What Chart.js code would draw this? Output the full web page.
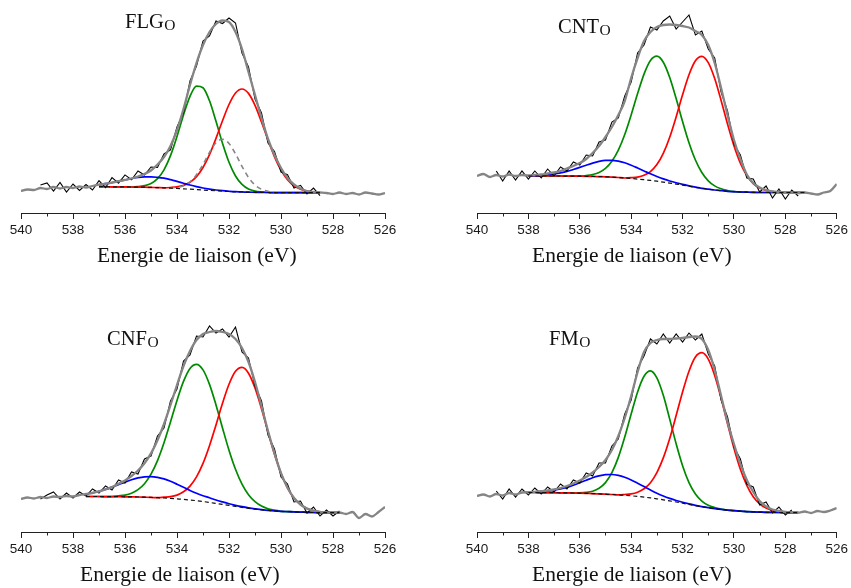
<!DOCTYPE html>
<html><head><meta charset="utf-8">
<script src="https://cdn.jsdelivr.net/npm/chart.js@4.4.1/dist/chart.umd.min.js"></script>
<style>
html,body{margin:0;padding:0;background:#fff}
body{width:851px;height:588px;position:relative;overflow:hidden}
canvas{position:absolute}
.lab{position:absolute;font-family:"Liberation Serif","Times New Roman",serif;font-size:20.5px;line-height:1;color:#111;white-space:nowrap}
.lab span{font-size:15.5px;position:relative;top:2px;margin-left:0.5px}
.ax{position:absolute;font-family:"Liberation Serif","Times New Roman",serif;font-size:21.5px;line-height:1;color:#111;white-space:nowrap}
</style></head><body>
<canvas id="c0" width="425" height="290" style="left:0;top:0"></canvas>
<canvas id="c1" width="426" height="290" style="left:425px;top:0"></canvas>
<canvas id="c2" width="425" height="294" style="left:0;top:294px"></canvas>
<canvas id="c3" width="426" height="294" style="left:425px;top:294px"></canvas>
<div class="lab" style="left:125px;top:11px">FLG<span>O</span></div>
<div class="lab" style="left:558px;top:16px">CNT<span>O</span></div>
<div class="lab" style="left:107px;top:328px">CNF<span>O</span></div>
<div class="lab" style="left:549px;top:328px">FM<span>O</span></div>
<div class="ax" style="left:97px;top:245px">Energie de liaison (eV)</div>
<div class="ax" style="left:532px;top:245px">Energie de liaison (eV)</div>
<div class="ax" style="left:80px;top:564px">Energie de liaison (eV)</div>
<div class="ax" style="left:532px;top:564px">Energie de liaison (eV)</div>
<script>
// Binding-energy grid (eV)
const ENERGY = [540,539.75,539.5,539.25,539,538.75,538.5,538.25,538,537.75,537.5,537.25,537,536.75,536.5,536.25,536,535.75,535.5,535.25,535,534.75,534.5,534.25,534,533.75,533.5,533.25,533,532.75,532.5,532.25,532,531.75,531.5,531.25,531,530.75,530.5,530.25,530,529.75,529.5,529.25,529,528.75,528.5,528.25,528,527.75,527.5,527.25,527,526.75,526.5,526.25,526];
const X_TICKS_MINOR = [539,537,535,533,531,529,527];

// ---------- FLG_O ----------
const flgEnvelope = [22,23.5,23,25,24,26,24.5,26,25,26.5,25.5,27,28.3,29.3,30.4,31.8,33.1,34.5,36.5,39,42.5,48.5,56,67,83,104,128,150,168,181,189,192.5,191,181,164,141,118,95,74,58,45,35,28.5,24.5,22,21,20.5,20,19,20.5,19,20,18.5,20.5,19.5,18.5,20];
const flgDataFrom = 539.25;
const flgData = [28,30,22,30.5,21,29,22.5,28.5,23,32.3,25.3,35.4,29.8,38.1,33.2,42,38,46,45.5,59,63,86,100,132,147,172,177,192,189.5,195,190,160,146,114,100,70,61.5,41,38.3,25,27.7,19,24.9,17.3];
const flgBaseFrom = 537;
const flgBase = [26.3,26.3,26.2,26.2,26.1,26.0,25.9,25.8,25.6,25.4,25.2,24.9,24.6,24.2,23.8,23.4,23.0,22.6,22.2,21.8,21.5,21.2,21.0,20.8,20.7,20.6,20.5,20.4,20.4,20.3,20.3,20.3,20.3,20.3,20.3];
const flgGreenFrom = 535.5;
const flgGreen = [0.5,1.5,3.8,8.9,18.0,32.5,52.0,73.9,92.9,103.5,102.3,89.6,69.5,47.9,29.2,15.8,7.6,3.2,1.2,0.4];
const flgRedFrom = 534.25;
const flgRed = [0.6,1.5,3.4,6.9,13.0,22.5,35.8,52.4,70.5,87.0,98.8,103,98.8,87.0,70.5,52.4,35.8,22.5,13.0,6.9,3.4,1.5,0.6];
const flgBlueFrom = 537;
const flgBlue = [2.0,3.0,4.2,5.6,7.0,8.4,9.6,10.3,10.6,10.3,9.6,8.4,7.0,5.6,4.2,3.0,2.0,1.3,0.8,0.5,0.25,0.1,0.1];
const flgExtraFrom = 534.25;
const flgExtra = [0.3,1.1,3.1,7.3,14.8,25.6,38.0,48.0,52,48.0,38.0,25.6,14.8,7.3,3.1,1.1,0.3];

// ---------- CNT_O ----------
const cntEnvelope = [37,39,36,38,36.5,38.5,37,38,37.5,38,38.5,39.5,40.5,42,44.5,47,50,54,60,67,76,86,98,112,135,155,172,181,186,188,188.5,188,187,185.5,182,178,168,150,125,98,73,54,38.5,30,25.5,23,21.5,21,20.5,20.5,20,20.5,19.5,18.5,20.5,22,29];
const cntDataFrom = 539.25;
const cntData = [42,32,42,33,42,34,42,35,44,37,46,42,51,48,58,57,71,73,91,95,117,131,160,168,186,183,192,197,184,191,198,178,182,164,155,121,102,69,58,35,34,21,27,15,24,14,23,17];
const cntBaseFrom = 538;
const cntBase = [37,37,37,37,37,37,36.9,36.9,36.8,36.7,36.6,36.4,36.2,35.9,35.5,35.0,34.5,33.9,33.3,32.6,31.8,30.9,29.9,28.9,27.9,26.8,25.7,24.7,23.8,23.0,22.3,21.7,21.3,21.0,20.8,20.6,20.5,20.5,20.5,20.5,20.5,20.5,20.5,20.5];
const cntGreenFrom = 535.75;
const cntGreen = [0.8,1.9,4.1,8.4,15.8,27.3,43.5,63.6,85.5,105.6,119.9,125,119.9,105.6,85.5,63.6,43.5,27.3,15.8,8.4,4.1,1.9,0.8];
const cntRedFrom = 534;
const cntRed = [0.8,2.0,4.4,8.8,16.6,28.8,45.9,67.2,90.3,111.5,126.6,132,126.6,111.5,90.3,67.2,45.9,28.8,16.6,8.8,4.4,2.0,0.8];
const cntBlueFrom = 538;
const cntBlue = [0.2,0.4,0.7,1.3,2.1,3.2,4.7,6.6,8.8,11.1,13.3,15.2,16.4,16.8,16.4,15.2,13.3,11.1,8.8,6.6,4.7,3.2,2.1,1.3,0.7,0.4,0.2];

// ---------- CNF_O ----------
const cnfEnvelope = [33,34.5,33.5,35,34,35.5,35,36,35.5,37,38,39,40.7,42.6,45,48.2,51.6,56,61.5,68.7,78.6,91.8,108,127,147,166,181,192,198,200,201,200,198,193,184,170,150,126,101,78.6,58.8,44.2,34,27.5,23.5,21.3,20.2,19.5,19.3,19.5,18,20,14,18,15.5,20,25];
const cnfDataFrom = 539.25;
const cnfData = [33,37,40,33,39,34,40,36,43,39,46,42,52,49,60,58,73,76,96,104,131,143,171,177,196,195,206,199,203,195,205,180,174,146,131,97,83,55,48,30,31,19,25,16,22,16,21];
const cnfBaseFrom = 537.5;
const cnfBase = [35.5,35.5,35.5,35.4,35.4,35.3,35.2,35.1,35.0,34.8,34.6,34.3,34.0,33.6,33.1,32.6,32.0,31.3,30.5,29.6,28.6,27.6,26.6,25.6,24.6,23.7,22.9,22.2,21.6,21.1,20.7,20.4,20.1,19.9,19.7,19.5,19.4,19.3,19.3,19.3];
const cnfGreenFrom = 536.25;
const cnfGreen = [0.8,1.7,3.7,7.4,13.5,23.2,37.1,55.2,76.5,98.5,118,131.6,136.4,131.6,118,98.5,76.5,55.2,37.1,23.2,13.5,7.4,3.7,1.7,0.8];
const cnfRedFrom = 534.5;
const cnfRed = [0.8,1.8,3.8,7.6,13.9,23.8,38.1,56.7,78.5,101.1,121.1,135.1,140,135.1,121.1,101.1,78.5,56.7,38.1,23.8,13.9,7.6,3.8,1.8,0.8];
const cnfBlueFrom = 537.5;
const cnfBlue = [2.4,3.6,5.2,7.2,9.5,12.1,14.7,17.1,19.1,20.4,20.8,20.4,19.1,17.1,14.7,12.1,9.5,7.4,5.8,4.6,3.4,2.5,1.7,1.1,0.7,0.4,0.2,0.1];

// ---------- FM_O ----------
const fmEnvelope = [36,37.5,35.5,38,36.5,39,37.5,39.5,39.8,40.2,40.8,41.5,42.5,44,46,48.5,51.5,55,59.5,65,72,82,96,114,136,160,180,189,192,193,193,193.5,194,195,195.5,193,182,162,136,110,88,68,52,40,31,25.5,22.5,21,20,19.6,19.3,20.5,19,21,20,21.5,24];
const fmDataFrom = 539.25;
const fmData = [41,33,43,35,43,37,44,38,45,40,48,43,52,49,59,56,69,69,86,93,118,132,164,176,193,188,198,189,198,190,199,192,198,178,166,132,115,85,73,48,45,27,30,19,25,17,22];
const fmBaseFrom = 538;
const fmBase = [39.5,39.5,39.4,39.4,39.3,39.2,39.1,39.0,38.8,38.6,38.4,38.1,37.8,37.5,37.1,36.7,36.2,35.6,34.9,34.1,33.2,32.2,31.1,30.0,28.8,27.6,26.4,25.3,24.3,23.4,22.6,21.9,21.3,20.8,20.4,20.1,19.9,19.7,19.6,19.5,19.4,19.3,19.3];
const fmGreenFrom = 536;
const fmGreen = [0.3,1.0,2.4,5.6,11.6,21.8,37.5,58.2,81.8,104.5,120.9,127,120.9,104.5,81.8,58.2,37.5,21.8,11.6,5.6,2.4,1.0,0.3];
const fmRedFrom = 534.25;
const fmRed = [0.8,1.9,4.2,8.3,15.2,26.2,41.9,62.4,86.4,111.2,133.2,148.6,154,148.6,133.2,111.2,86.4,62.4,41.9,26.2,15.2,8.3,4.2,1.9,0.8];
const fmBlueFrom = 538;
const fmBlue = [0.3,0.5,0.9,1.5,2.5,3.8,5.6,7.9,10.5,13.2,15.9,18,19.5,20,19.5,18,15.9,13.2,10.5,7.9,5.6,3.8,2.5,1.5,0.9,0.5,0.3,0.1];

// ---------- helpers ----------
function idx(e, name){ const i = ENERGY.indexOf(e); if(i<0) throw new Error('bad energy '+e+' '+name); return i; }
function series(from, vals, name){
  const i0 = idx(from, name);
  if(i0 + vals.length > ENERGY.length) throw new Error('overflow '+name);
  return vals.map((v,k)=>({x:ENERGY[i0+k], y:v}));
}
// component drawn on top of the background over the whole background range
function onBase(baseFrom, base, from, vals, name){
  const b0 = idx(baseFrom, name), c0 = idx(from, name);
  if(c0 < b0 || c0 + vals.length > b0 + base.length) throw new Error('component outside base '+name);
  return base.map((b,k)=>{ const j = b0 + k - c0; const c = (j>=0 && j<vals.length) ? vals[j] : 0; return {x:ENERGY[b0+k], y:b+c}; });
}
// component drawn only over its own support
function onBaseOnly(baseFrom, base, from, vals, name){
  const b0 = idx(baseFrom, name), c0 = idx(from, name);
  return vals.map((v,k)=>({x:ENERGY[c0+k], y:base[c0+k-b0]+v}));
}
if(ENERGY.length!==57) throw new Error('grid');
[['flgEnvelope',flgEnvelope],['cntEnvelope',cntEnvelope],['cnfEnvelope',cnfEnvelope],['fmEnvelope',fmEnvelope]].forEach(([n,a])=>{ if(a.length!==57) throw new Error(n+' length '+a.length); });
[['flgData',flgData,44],['cntData',cntData,48],['cnfData',cnfData,47],['fmData',fmData,47]].forEach(([n,a,l])=>{ if(a.length!==l) throw new Error(n+' length '+a.length); });

const GREEN='#008a00', RED='#ff0000', BLUE='#0000ff', GRAY='#858585';
function line(data, color, width, extra){
  return Object.assign({data, borderColor:color, borderWidth:width, pointRadius:0, fill:false, cubicInterpolationMode:'monotone'}, extra||{});
}
function buildSets(p){
  const sets = [
    line(onBase(p.baseFrom,p.base,p.greenFrom,p.green,'green'), GREEN, 1.7, {order:6}),
    line(onBase(p.baseFrom,p.base,p.redFrom,p.red,'red'), RED, 1.7, {order:5}),
    line(onBase(p.baseFrom,p.base,p.blueFrom,p.blue,'blue'), BLUE, 1.7, {order:4}),
    line(series(p.dataFrom,p.data,'data'), '#000', 1.1, {order:3, cubicInterpolationMode:'default', tension:0}),
    line(series(540,p.envelope,'env'), GRAY, 2.3, {order:2}),
    line(series(p.baseFrom,p.base,'base'), '#111', 1.2, {order:1, borderDash:[4,3]})
  ];
  if(p.extra) sets.push(line(onBaseOnly(p.baseFrom,p.base,p.extraFrom,p.extra,'extra'), GRAY, 1.6, {order:3.5, borderDash:[5,4]}));
  return sets;
}

const minorTicks = {id:'minorTicks', afterDraw(chart){
  const s = chart.scales.x, c = chart.ctx; c.save(); c.strokeStyle='#222'; c.lineWidth=1;
  X_TICKS_MINOR.forEach(v=>{ const x = Math.round(s.getPixelForValue(v))+0.5; c.beginPath(); c.moveTo(x, s.top); c.lineTo(x, s.top+3.5); c.stroke(); });
  c.restore();
}};

const PANELS = [
  {id:'c0', h:290, axisY:213, padT:3, padL:21, padR:40, envelope:flgEnvelope, dataFrom:flgDataFrom, data:flgData, baseFrom:flgBaseFrom, base:flgBase, greenFrom:flgGreenFrom, green:flgGreen, redFrom:flgRedFrom, red:flgRed, blueFrom:flgBlueFrom, blue:flgBlue, extraFrom:flgExtraFrom, extra:flgExtra},
  {id:'c1', h:290, axisY:213, padT:3, padL:52, padR:11, envelope:cntEnvelope, dataFrom:cntDataFrom, data:cntData, baseFrom:cntBaseFrom, base:cntBase, greenFrom:cntGreenFrom, green:cntGreen, redFrom:cntRedFrom, red:cntRed, blueFrom:cntBlueFrom, blue:cntBlue},
  {id:'c2', h:294, axisY:238, padT:28, padL:21, padR:40, envelope:cnfEnvelope, dataFrom:cnfDataFrom, data:cnfData, baseFrom:cnfBaseFrom, base:cnfBase, greenFrom:cnfGreenFrom, green:cnfGreen, redFrom:cnfRedFrom, red:cnfRed, blueFrom:cnfBlueFrom, blue:cnfBlue},
  {id:'c3', h:294, axisY:238, padT:28, padL:52, padR:11, envelope:fmEnvelope, dataFrom:fmDataFrom, data:fmData, baseFrom:fmBaseFrom, base:fmBase, greenFrom:fmGreenFrom, green:fmGreen, redFrom:fmRedFrom, red:fmRed, blueFrom:fmBlueFrom, blue:fmBlue}
];

PANELS.forEach(p=>{
  new Chart(document.getElementById(p.id), {
    type:'line',
    data:{datasets: buildSets(p)},
    options:{
      responsive:false, animation:false, events:[],
      layout:{padding:{left:p.padL, right:p.padR, top:p.padT, bottom:0}},
      plugins:{legend:{display:false}, tooltip:{enabled:false}, title:{display:false}},
      scales:{
        x:{type:'linear', min:526, max:540, reverse:true,
           ticks:{stepSize:2, padding:3, color:'#1a1a1a', maxRotation:0, autoSkip:false,
                  font:{family:'"Liberation Sans", Arial, sans-serif', size:13.5}},
           grid:{drawOnChartArea:false, drawTicks:true, tickLength:6, tickColor:'#222', tickWidth:1},
           border:{display:true, color:'#222', width:1},
           afterFit:(s)=>{ s.height = p.h - p.axisY; }
        },
        y:{display:false, min:0, max:210}
      }
    },
    plugins:[minorTicks]
  });
});
</script>
</body></html>
